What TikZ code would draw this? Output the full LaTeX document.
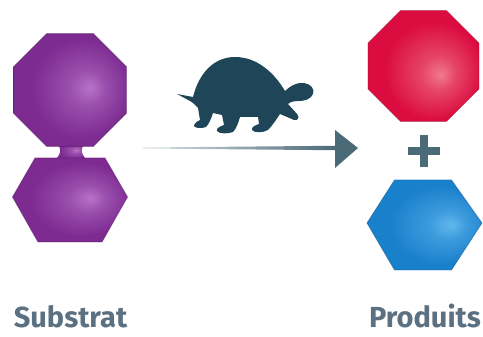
\documentclass[tikz,border=0pt]{standalone}
\usepackage{fontspec}
\setmainfont{Fira Sans}
\usetikzlibrary{calc}

% molecule colours
\definecolor{purplebase}{rgb}{0.49,0.17,0.57}
\definecolor{purplehi}{rgb}{0.72,0.45,0.78}
\definecolor{redbase}{rgb}{0.86,0.05,0.25}
\definecolor{redhi}{rgb}{0.94,0.48,0.56}
\definecolor{bluebase}{rgb}{0.10,0.50,0.80}
\definecolor{bluehi}{rgb}{0.38,0.72,0.93}
\definecolor{slate}{HTML}{4A6A78}
\definecolor{turtleink}{HTML}{1F4658}
\definecolor{labelink}{HTML}{5B7080}

% glossy balls: highlight pushed a little to the right
\pgfdeclareradialshading{purpleball}{\pgfpoint{9bp}{1bp}}{%
  color(0bp)=(purplehi); color(8bp)=(purplehi!50!purplebase);
  color(22bp)=(purplebase); color(40bp)=(purplebase);
  color(47bp)=(purplebase!85!black); color(50bp)=(purplebase!72!black)}
\pgfdeclareradialshading{redball}{\pgfpoint{8bp}{-4bp}}{%
  color(0bp)=(redhi); color(8bp)=(redhi!50!redbase);
  color(22bp)=(redbase); color(40bp)=(redbase);
  color(47bp)=(redbase!85!black); color(50bp)=(redbase!72!black)}
\pgfdeclareradialshading{blueball}{\pgfpoint{12bp}{0bp}}{%
  color(0bp)=(bluehi); color(8bp)=(bluehi!50!bluebase);
  color(22bp)=(bluebase); color(40bp)=(bluebase);
  color(47bp)=(bluebase!85!black); color(50bp)=(bluebase!72!black)}

\tikzset{
  purplemol/.style={shading=purpleball, draw=purplebase!70!black, draw opacity=0.5, line width=0.8pt},
  redmol/.style={shading=redball, draw=redbase!70!black, draw opacity=0.5, line width=0.8pt},
  bluemol/.style={shading=blueball, draw=bluebase!70!black, draw opacity=0.5, line width=0.8pt},
  caption/.style={font=\bfseries\fontsize{29}{30}\selectfont, text=labelink, anchor=base, inner sep=0pt},
  plusbar/.style={fill=slate},
}

\begin{document}
\begin{tikzpicture}[x=1pt, y=-1pt]
  \useasboundingbox (0,0) rectangle (483,337);

  % anchor points
  \coordinate (substrattop) at (70,90);
  \coordinate (substratbottom) at (70,200);
  \coordinate (productred) at (423.5,66);
  \coordinate (productblue) at (424.5,225);
  \coordinate (plus) at (424,151);
  \coordinate (arrowstart) at (143,148);
  \coordinate (arrowtip) at (358,148);

  % bond between the two halves of the substrate
  \shade[purplemol, draw=none]
    (55,141) .. controls (62,148) and (62,153) .. (55,160)
    -- (87,160) .. controls (80,153) and (80,148) .. (87,141) -- cycle;

  % substrate: octagon on top of a hexagon
  \shade[purplemol] ($(substrattop)+(22.5:61)$)
    \foreach \a in {67.5,112.5,...,337.5} { -- ($(substrattop)+(\a:61)$) } -- cycle;
  \shade[purplemol]
    ($(substratbottom)+(-57.5,-3)$) -- ($(substratbottom)+(-35,-42)$)
    -- ($(substratbottom)+(35,-42)$) -- ($(substratbottom)+(57.5,-3)$)
    -- ($(substratbottom)+(32,42)$) -- ($(substratbottom)+(-32,42)$) -- cycle;

  % products
  \shade[redmol] ($(productred)+(22.5:60)$)
    \foreach \a in {67.5,112.5,...,337.5} { -- ($(productred)+(\a:60)$) } -- cycle;
  \shade[bluemol]
    ($(productblue)+(-57.5,-2)$) -- ($(productblue)+(-30,-45)$)
    -- ($(productblue)+(27,-45)$) -- ($(productblue)+(57.5,-2)$)
    -- ($(productblue)+(27,45)$) -- ($(productblue)+(-30,45)$) -- cycle;

  % plus sign
  \fill[plusbar] ($(plus)+(-16,-4)$) rectangle ($(plus)+(16,4)$);
  \fill[plusbar] ($(plus)+(-4,-16)$) rectangle ($(plus)+(4,16)$);

  % reaction arrow: tapered shaft and head
  \shade[left color=slate!18, right color=slate]
    ($(arrowstart)+(0,-0.5)$) -- ($(arrowtip)+(-23,-2.2)$)
    -- ($(arrowtip)+(-23,2.2)$) -- ($(arrowstart)+(0,0.5)$) -- cycle;
  \fill[slate] (arrowtip) -- ($(arrowtip)+(-23,-18)$) -- ($(arrowtip)+(-23,20)$) -- cycle;

  % slow reaction: tortoise above the arrow
  \fill[turtleink]
    (177,94) -- (193,97)
    .. controls (199,73) and (214,57) .. (235,57)
    .. controls (258,57) and (275,74) .. (285,91)
    .. controls (290,86) and (297,82) .. (304,83)
    .. controls (311,84) and (315,89) .. (313,94)
    .. controls (311,99) and (305,101) .. (299,101)
    .. controls (294,101) and (290,102) .. (288,104)
    -- (297,114) .. controls (300,117) and (298,121) .. (294,120)
    -- (280,114)
    .. controls (276,120) and (272,126) .. (268,130)
    .. controls (263,133) and (254,133) .. (252,130)
    .. controls (251,127) and (256,125) .. (259,124)
    -- (258,117) -- (240,117)
    .. controls (238,124) and (236,129) .. (233,132)
    .. controls (228,134) and (219,134) .. (217,131)
    .. controls (216,128) and (221,126) .. (224,125)
    -- (222,115) -- (213,113)
    .. controls (211,119) and (209,124) .. (206,127)
    .. controls (201,129) and (195,128) .. (194,126)
    .. controls (194,123) and (198,121) .. (200,120)
    -- (198,108) -- (193,103) -- (190,101) -- cycle;

  % captions
  \node[caption] (substratlabel) at (70.5,327) {Substrat};
  \node[caption] (produitslabel) at (425,327) {Produits};
\end{tikzpicture}
\end{document}
